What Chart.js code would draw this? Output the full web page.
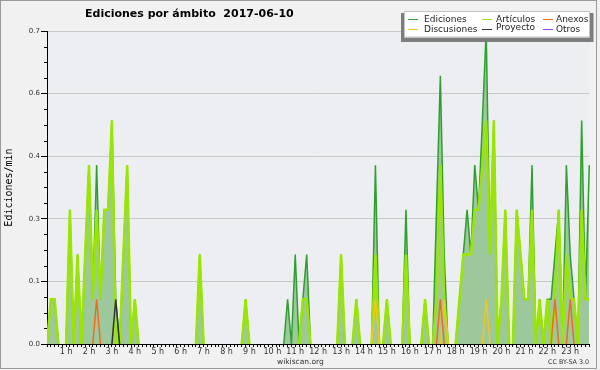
<!DOCTYPE html>
<html>
<head>
<meta charset="utf-8">
<script src="https://cdn.jsdelivr.net/npm/chart.js@4.4.1/dist/chart.umd.min.js"></script>
<style>
  html, body { margin: 0; padding: 0; background: #fff; }
  #wrap { width: 600px; height: 370px; }
</style>
</head>
<body>
<div id="wrap"><canvas id="chart" width="600" height="370"></canvas></div>
<script>
// 10 minute slots of the day, 00:00 .. 23:50
const times = [];
for (let h = 0; h < 24; h++) {
    for (let m = 0; m < 60; m += 10) {
        times.push(String(h).padStart(2, '0') + ':' + String(m).padStart(2, '0'));
    }
}

const hourLabels = ['1 h', '2 h', '3 h', '4 h', '5 h', '6 h', '7 h', '8 h', '9 h', '10 h', '11 h', '12 h',
    '13 h', '14 h', '15 h', '16 h', '17 h', '18 h', '19 h', '20 h', '21 h', '22 h', '23 h'];

const yTickValues = [0, 0.14, 0.28, 0.42, 0.56, 0.7];
const yTickLabels = ['0.0', '0.1', '0.3', '0.4', '0.6', '0.7'];

// edits per minute, one value per 10 min slot (2 hours per row)
const ediciones = [
    0, 0, 0.1, 0.1, 0, 0,   0, 0.3, 0, 0.2, 0, 0.2,
    0.4, 0.1, 0.4, 0.1, 0.3, 0.3,   0.5, 0.1, 0, 0.2, 0.4, 0,
    0.1, 0, 0, 0, 0, 0,   0, 0, 0, 0, 0, 0,
    0, 0, 0, 0, 0, 0.2,   0, 0, 0, 0, 0, 0,
    0, 0, 0, 0, 0, 0.1,   0, 0, 0, 0, 0, 0,
    0, 0, 0, 0, 0.1, 0,   0.2, 0, 0.1, 0.2, 0, 0,
    0, 0, 0, 0, 0, 0,   0.2, 0, 0, 0, 0.1, 0,
    0, 0, 0, 0.4, 0, 0,   0.1, 0, 0, 0, 0, 0.3,
    0, 0, 0, 0, 0.1, 0,   0, 0.3, 0.6, 0.2, 0, 0,
    0, 0.1, 0.2, 0.3, 0.2, 0.4,   0.3, 0.5, 0.7, 0.2, 0.5, 0,
    0.1, 0.3, 0, 0, 0.3, 0.2,   0.1, 0.1, 0.4, 0, 0.1, 0,
    0.1, 0.1, 0.2, 0.3, 0, 0.4,   0.2, 0.1, 0, 0.5, 0.1, 0.4
];

const articulos = [
    0, 0, 0.1, 0.1, 0, 0,   0, 0.3, 0, 0.2, 0, 0.2,
    0.4, 0.1, 0.3, 0.1, 0.3, 0.3,   0.5, 0, 0, 0.2, 0.4, 0,
    0.1, 0, 0, 0, 0, 0,   0, 0, 0, 0, 0, 0,
    0, 0, 0, 0, 0, 0.2,   0, 0, 0, 0, 0, 0,
    0, 0, 0, 0, 0, 0.1,   0, 0, 0, 0, 0, 0,
    0, 0, 0, 0, 0, 0,   0, 0, 0.1, 0.1, 0, 0,
    0, 0, 0, 0, 0, 0,   0.2, 0, 0, 0, 0.1, 0,
    0, 0, 0, 0.2, 0, 0,   0.1, 0, 0, 0, 0, 0.2,
    0, 0, 0, 0, 0.1, 0,   0, 0.1, 0.4, 0.1, 0, 0,
    0, 0.1, 0.2, 0.2, 0.2, 0.3,   0.3, 0.4, 0.5, 0.2, 0.5, 0,
    0.1, 0.3, 0, 0, 0.3, 0.2,   0.1, 0.1, 0.3, 0, 0.1, 0,
    0.1, 0, 0.1, 0.3, 0, 0.2,   0.1, 0.1, 0, 0.3, 0.1, 0.1
];

const anexos = [
    0, 0, 0, 0, 0, 0,   0, 0, 0, 0, 0, 0,
    0, 0, 0.1, 0, 0, 0,   0, 0, 0, 0, 0, 0,
    0, 0, 0, 0, 0, 0,   0, 0, 0, 0, 0, 0,
    0, 0, 0, 0, 0, 0,   0, 0, 0, 0, 0, 0,
    0, 0, 0, 0, 0, 0,   0, 0, 0, 0, 0, 0,
    0, 0, 0, 0, 0, 0,   0, 0, 0, 0, 0, 0,
    0, 0, 0, 0, 0, 0,   0, 0, 0, 0, 0, 0,
    0, 0, 0, 0, 0, 0,   0, 0, 0, 0, 0, 0,
    0, 0, 0, 0, 0, 0,   0, 0, 0.1, 0, 0, 0,
    0, 0, 0, 0, 0, 0,   0, 0, 0, 0, 0, 0,
    0, 0, 0, 0, 0, 0,   0, 0, 0, 0, 0, 0,
    0, 0, 0.1, 0, 0, 0,   0.1, 0, 0, 0, 0, 0
];

const discusiones = [
    0, 0, 0, 0, 0, 0,   0, 0, 0, 0, 0, 0,
    0, 0, 0, 0, 0, 0,   0, 0, 0, 0, 0, 0,
    0, 0, 0, 0, 0, 0,   0, 0, 0, 0, 0, 0,
    0, 0, 0, 0, 0, 0,   0, 0, 0, 0, 0, 0,
    0, 0, 0, 0, 0, 0,   0, 0, 0, 0, 0, 0,
    0, 0, 0, 0, 0, 0,   0, 0, 0, 0, 0, 0,
    0, 0, 0, 0, 0, 0,   0, 0, 0, 0, 0, 0,
    0, 0, 0, 0.1, 0, 0,   0, 0, 0, 0, 0, 0,
    0, 0, 0, 0, 0, 0,   0, 0, 0, 0.1, 0, 0,
    0, 0, 0, 0, 0, 0,   0, 0, 0.1, 0, 0, 0,
    0, 0, 0, 0, 0, 0,   0, 0, 0, 0, 0, 0,
    0, 0, 0, 0, 0, 0,   0, 0, 0, 0, 0, 0
];

const proyecto = [
    0, 0, 0, 0, 0, 0,   0, 0, 0, 0, 0, 0,
    0, 0, 0, 0, 0, 0,   0, 0.1, 0, 0, 0, 0,
    0, 0, 0, 0, 0, 0,   0, 0, 0, 0, 0, 0,
    0, 0, 0, 0, 0, 0,   0, 0, 0, 0, 0, 0,
    0, 0, 0, 0, 0, 0,   0, 0, 0, 0, 0, 0,
    0, 0, 0, 0, 0, 0,   0, 0, 0, 0, 0, 0,
    0, 0, 0, 0, 0, 0,   0, 0, 0, 0, 0, 0,
    0, 0, 0, 0, 0, 0,   0, 0, 0, 0, 0, 0,
    0, 0, 0, 0, 0, 0,   0, 0, 0, 0, 0, 0,
    0, 0, 0, 0, 0, 0,   0, 0, 0, 0, 0, 0,
    0, 0, 0, 0, 0, 0,   0, 0, 0, 0, 0, 0,
    0, 0, 0, 0, 0, 0,   0, 0, 0, 0, 0, 0
];

const otros = new Array(144).fill(0);

const colEdiciones = '#2f9f2f';
const colArticulos = '#9be600';
const colAnexos = '#f26a1b';
const colDiscusiones = '#f5c518';
const colProyecto = '#333333';
const colOtros = '#9b3dff';

// lines lying flat on zero are hidden behind the axis in the original
function hideFlat(color) {
    return ctx => (ctx.p0.parsed.y === 0 && ctx.p1.parsed.y === 0) ? 'rgba(0,0,0,0)' : color;
}

function lineSet(label, data, color, width, order) {
    return {
        label: label,
        data: data,
        borderColor: color,
        borderWidth: width,
        pointRadius: 0,
        tension: 0,
        fill: false,
        order: order,
        segment: { borderColor: hideFlat(color) }
    };
}

const legendItems = [
    { text: 'Ediciones', color: colEdiciones, lx: 408, tx: 424, ly: 19, ty: 22.3 },
    { text: 'Artículos', color: colArticulos, lx: 482, tx: 496, ly: 19, ty: 22.3 },
    { text: 'Anexos', color: colAnexos, lx: 543, tx: 556, ly: 19, ty: 22.3 },
    { text: 'Discusiones', color: colDiscusiones, lx: 408, tx: 424, ly: 29, ty: 32.3 },
    { text: 'Proyecto', color: colProyecto, lx: 482, tx: 496, ly: 29, ty: 30 },
    { text: 'Otros', color: colOtros, lx: 543, tx: 556, ly: 29, ty: 32.3 }
];

const extras = {
    id: 'extras',
    beforeDraw(chart) {
        const c = chart.ctx, a = chart.chartArea;
        c.save();
        c.fillStyle = '#f1f1f1';
        c.fillRect(0, 0, chart.width, chart.height);
        c.fillStyle = '#eceef1';
        c.fillRect(a.left, a.top, a.right - a.left, a.bottom - a.top);
        c.strokeStyle = '#9a9a9a';
        c.lineWidth = 1;
        c.strokeRect(0.5, 0.5, 596, 368);
        c.restore();
    },
    afterDraw(chart) {
        const c = chart.ctx, a = chart.chartArea;
        const y = chart.scales.y;
        c.save();

        // minor ticks on the y axis
        c.strokeStyle = '#000';
        c.lineWidth = 1;
        c.beginPath();
        for (let k = 1; k < 20; k++) {
            if (k % 4 === 0) continue;
            const py = Math.round(y.getPixelForValue(k * 0.035)) + 0.5;
            c.moveTo(a.left - 3, py);
            c.lineTo(a.left, py);
        }
        c.stroke();

        // title
        c.fillStyle = '#000';
        c.font = 'bold 11px "DejaVu Sans"';
        c.textBaseline = 'alphabetic';
        c.fillText('Ediciones por ámbito  2017-06-10', 85, 17.3);

        // legend box
        c.fillStyle = '#7d7d7d';
        c.fillRect(401, 13, 192.5, 29);
        c.fillStyle = '#ffffff';
        c.fillRect(404, 11.5, 185.5, 26);
        c.strokeStyle = '#c4c4c4';
        c.strokeRect(404.5, 11.5, 185, 25.5);

        c.font = '9px "DejaVu Sans"';
        legendItems.forEach(it => {
            c.strokeStyle = it.color;
            c.lineWidth = 1;
            c.beginPath();
            c.moveTo(it.lx, it.ly + 0.5);
            c.lineTo(it.lx + 10, it.ly + 0.5);
            c.stroke();
            c.fillStyle = '#222';
            c.fillText(it.text, it.tx, it.ty);
        });

        // footer
        c.fillStyle = '#333';
        c.font = '7.5px "DejaVu Sans"';
        c.fillText('wikiscan.org', 277, 364);
        c.font = '6.4px "DejaVu Sans"';
        c.fillText('CC BY-SA 3.0', 548, 364);
        c.restore();
    }
};

window.onload = function() {
    const ctx = document.getElementById('chart').getContext('2d');

    const ed = lineSet('Ediciones', ediciones, colEdiciones, 1.5, 6);
    ed.fill = 'origin';
    ed.backgroundColor = '#9dc89c';

    new Chart(ctx, {
        type: 'line',
        data: {
            labels: times,
            datasets: [
                ed,
                lineSet('Artículos', articulos, colArticulos, 2.5, 5),
                lineSet('Discusiones', discusiones, colDiscusiones, 1.5, 3),
                lineSet('Anexos', anexos, colAnexos, 1.5, 2),
                lineSet('Proyecto', proyecto, colProyecto, 1.5, 1),
                lineSet('Otros', otros, colOtros, 1.5, 0)
            ]
        },
        options: {
            responsive: false,
            animation: false,
            devicePixelRatio: 1,
            events: [],
            layout: { padding: { left: 0, right: 10.7, top: 31, bottom: 0 } },
            plugins: {
                legend: { display: false },
                tooltip: { enabled: false }
            },
            scales: {
                x: {
                    type: 'category',
                    min: times[1],
                    offset: false,
                    afterFit: s => { s.height = 26; },
                    grid: { drawOnChartArea: false, color: '#000', tickLength: 3 },
                    border: { color: '#000' },
                    ticks: {
                        autoSkip: false,
                        maxRotation: 0,
                        minRotation: 0,
                        padding: 0,
                        color: '#333',
                        font: { family: 'DejaVu Sans', size: 8 },
                        callback: function(val) {
                            return val % 6 === 0 ? hourLabels[val / 6 - 1] : '';
                        }
                    }
                },
                y: {
                    min: 0,
                    max: 0.7,
                    afterFit: s => { s.width = 47; },
                    afterBuildTicks: s => { s.ticks = yTickValues.map(v => ({ value: v })); },
                    grid: { color: '#c8c8c8', tickColor: '#000', tickLength: 6 },
                    border: { color: '#000' },
                    title: {
                        display: true,
                        text: 'Ediciones/min',
                        color: '#000',
                        font: { family: 'DejaVu Sans Mono', size: 10 },
                        padding: { top: 3, bottom: 0 }
                    },
                    ticks: {
                        padding: 1,
                        color: '#333',
                        font: { family: 'DejaVu Sans', size: 7 },
                        callback: function(val) {
                            const i = yTickValues.indexOf(val);
                            return i >= 0 ? yTickLabels[i] : '';
                        }
                    }
                }
            }
        },
        plugins: [extras]
    });
};
</script>
</body>
</html>
